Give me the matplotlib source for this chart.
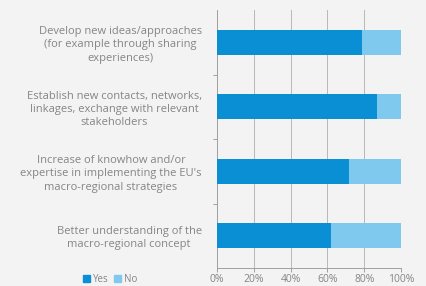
import matplotlib
matplotlib.use("Agg")
import matplotlib.pyplot as plt
from matplotlib.patches import Patch

plt.rcParams["font.family"] = ["Open Sans", "DejaVu Sans"]

categories = [
    "Develop new ideas/approaches\n(for example through sharing\nexperiences)",
    "Establish new contacts, networks,\nlinkages, exchange with relevant\nstakeholders",
    "Increase of knowhow and/or\nexpertise in implementing the EU's\nmacro-regional strategies",
    "Better understanding of the\nmacro-regional concept",
]
yes_vals = [79, 87, 72, 62]
no_vals = [21, 13, 28, 38]
xticks = [0, 20, 40, 60, 80, 100]
xticklabels = ["0%", "20%", "40%", "60%", "80%", "100%"]

bg = "#f3f3f3"
c_yes = "#0a8fd4"
c_no = "#7fc9ee"
txt = "#858585"

fig = plt.figure(figsize=(4.27, 2.86), dpi=100, facecolor=bg)
ax = fig.add_axes([217/427, 1-268/286, 184/427, 258/286], facecolor=bg)

pos = list(range(len(categories)))
ax.barh(pos, yes_vals, height=0.38, color=c_yes, zorder=3)
ax.barh(pos, no_vals, left=yes_vals, height=0.38, color=c_no, zorder=3)
ax.set_ylim(len(categories) - 0.5, -0.5)
ax.set_xlim(0, 100)
ax.set_xticks(xticks)
ax.set_xticklabels(xticklabels, color=txt, fontsize=7.5)
ax.set_yticks(pos)
ax.set_yticklabels(categories, color=txt, fontsize=8.0, ha="right",
                   multialignment="center", linespacing=1.28)
ax.tick_params(axis="y", length=0, pad=11)
ax.tick_params(axis="x", length=3, width=0.7, color="#a0a0a0", pad=1.5)
ax.set_yticks([0.5, 1.5, 2.5], minor=True)
ax.tick_params(axis="y", which="minor", length=3, width=0.7, color="#a0a0a0")
ax.grid(axis="x", color="#b8b8b8", linewidth=0.7, zorder=0)
for s in ["top", "right"]:
    ax.spines[s].set_visible(False)
for s in ["left", "bottom"]:
    ax.spines[s].set_color("#a0a0a0")
    ax.spines[s].set_linewidth(0.7)

handles = [Patch(color=c_yes, label="Yes"), Patch(color=c_no, label="No")]
fig.legend(handles=handles, loc="center", bbox_to_anchor=(110/427, 1-279/286), ncol=2,
           frameon=False, fontsize=7, labelcolor=txt, handlelength=0.7, handleheight=0.7,
           handletextpad=0.3, columnspacing=0.6)

fig.savefig("out.png", dpi=100, facecolor=bg)
